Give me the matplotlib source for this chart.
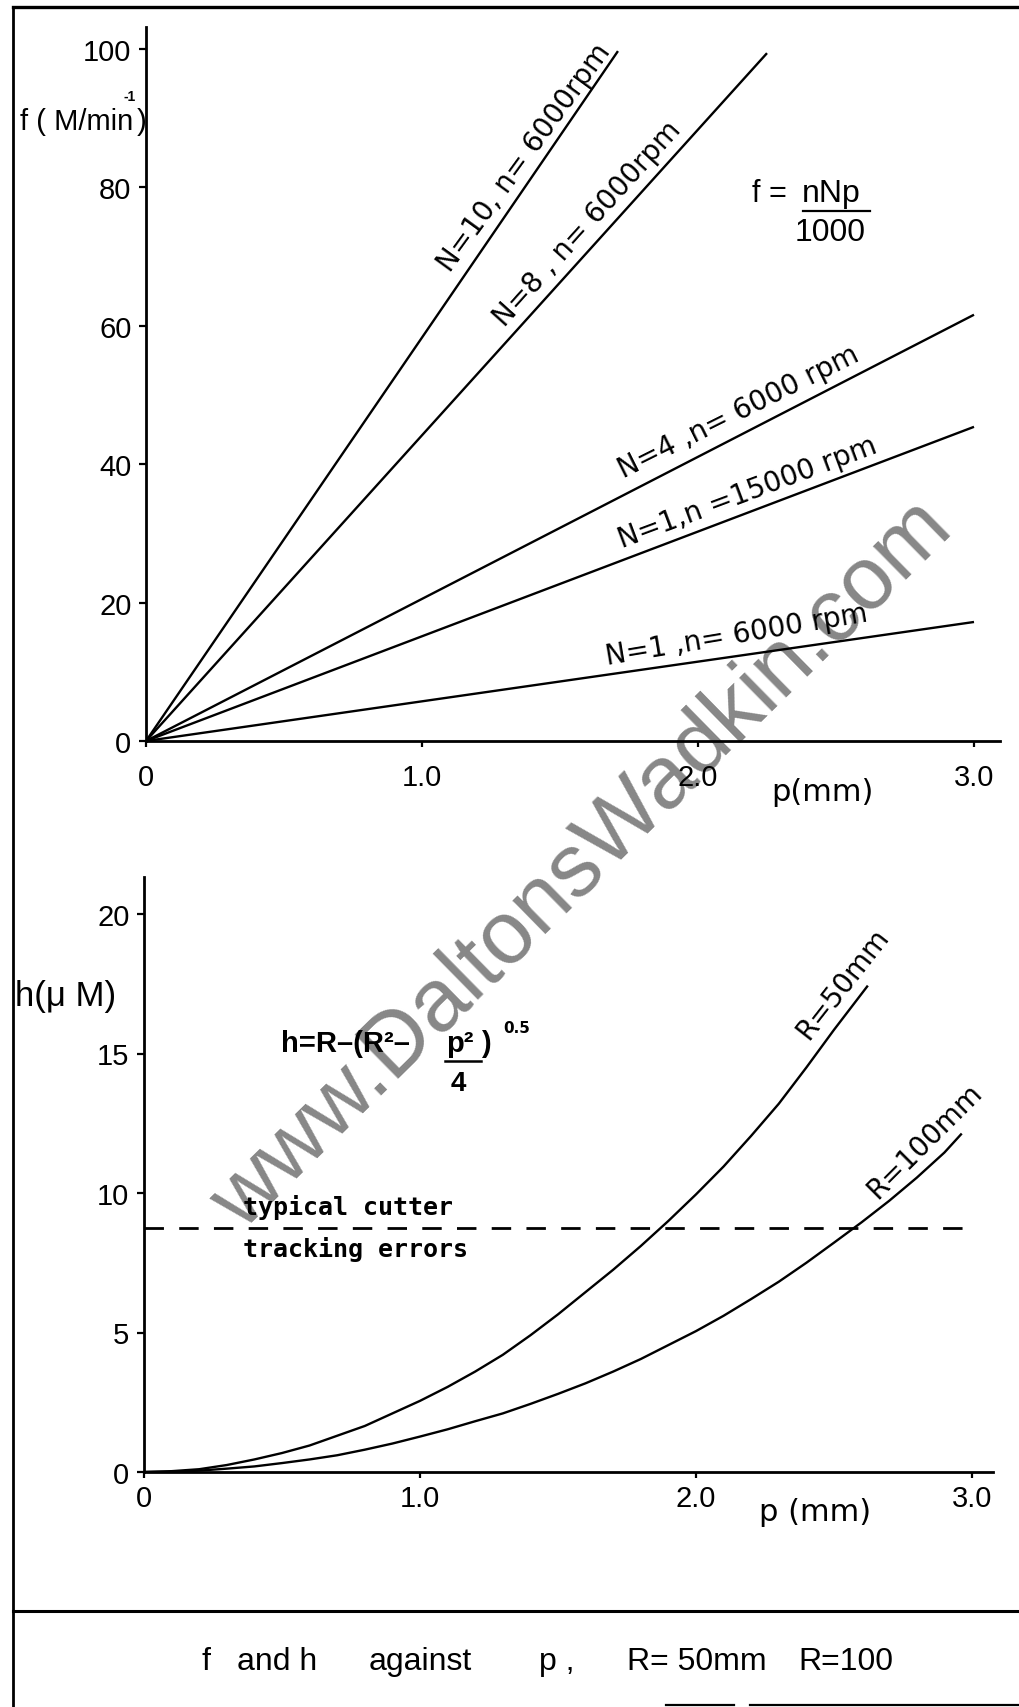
import matplotlib
matplotlib.use("Agg")
import matplotlib.pyplot as plt
from matplotlib.lines import Line2D

W, H = 1019, 1708
DPI = 100
FONT = ["Liberation Sans", "DejaVu Sans"]
WIDE = ["DejaVu Sans"]
TYPE = ["DejaVu Sans Mono", "DejaVu Sans"]
plt.rcParams["font.family"] = FONT

# Feed rate f (m/min) against pitch p (mm): straight lines from the origin
feed_labels = ["N=10, n= 6000rpm", "N=8 , n= 6000rpm", "N=4 ,n= 6000 rpm",
               "N=1,n =15000 rpm", "N=1 ,n= 6000 rpm"]
feed_p_end = [1.71, 2.25, 3.0, 3.0, 3.0]
feed_f_end = [99.7, 99.4, 61.6, 45.4, 17.2]

# Cusp height h (micrometres) against pitch p (mm) for two cutter radii
r50_p = [0.0, 0.1, 0.2, 0.3, 0.4, 0.5, 0.6, 0.7, 0.8, 0.9, 1.0, 1.1, 1.2, 1.3,
         1.4, 1.5, 1.6, 1.7, 1.8, 1.9, 2.0, 2.1, 2.2, 2.3, 2.4, 2.5, 2.62]
r50_h = [0.0, 0.03, 0.10, 0.25, 0.45, 0.68, 0.95, 1.30, 1.65, 2.10, 2.55, 3.05,
         3.60, 4.20, 4.90, 5.65, 6.45, 7.25, 8.10, 9.00, 9.95, 10.95, 12.05,
         13.20, 14.50, 15.85, 17.40]
r100_p = [0.0, 0.1, 0.2, 0.3, 0.4, 0.5, 0.6, 0.7, 0.8, 0.9, 1.0, 1.1, 1.2, 1.3,
          1.4, 1.5, 1.6, 1.7, 1.8, 1.9, 2.0, 2.1, 2.2, 2.3, 2.4, 2.5, 2.6, 2.7,
          2.8, 2.9, 2.96]
r100_h = [0.0, 0.01, 0.05, 0.12, 0.20, 0.32, 0.45, 0.60, 0.80, 1.02, 1.27, 1.53,
          1.82, 2.10, 2.44, 2.80, 3.18, 3.60, 4.05, 4.55, 5.05, 5.60, 6.20, 6.82,
          7.50, 8.22, 8.95, 9.72, 10.55, 11.45, 12.10]
tracking_error = 8.75

f_ticks = [0, 20, 40, 60, 80, 100]
h_ticks = [0, 5, 10, 15, 20]
p_ticks = [0, 1, 2, 3]
p_tick_labels = ["0", "1.0", "2.0", "3.0"]


def fx(x):
    return x / W


def fy(y):
    return 1 - y / H


def label(x, y, s, size=20, rot=0, ha="center", va="center", family=None, **kw):
    fig.text(fx(x), fy(y), s, size=size, rotation=rot, ha=ha, va=va,
             rotation_mode="anchor", family=family or FONT, **kw)


def rule(x0, y0, x1, y1, lw=2.0):
    fig.add_artist(Line2D([fx(x0), fx(x1)], [fy(y0), fy(y1)], color="black",
                          lw=lw, transform=fig.transFigure))


def style_axes(ax, xpad):
    ax.set_facecolor("none")
    for side in ("top", "right"):
        ax.spines[side].set_visible(False)
    for side in ("left", "bottom"):
        ax.spines[side].set_linewidth(2.0)
    ax.tick_params(axis="y", direction="out", length=5, width=1.6,
                   labelsize=21, pad=5.5)
    ax.tick_params(axis="x", direction="out", length=4, width=1.6,
                   labelsize=21, pad=xpad)
    ax.set_xticks(p_ticks)
    ax.set_xticklabels(p_tick_labels)


fig = plt.figure(figsize=(W / DPI, H / DPI), dpi=DPI)

# ---- upper panel: f against p ----
ax1 = fig.add_axes([fx(146), fy(742), (1000 - 146) / W, (742 - 28) / H])
ax1.set_xlim(0, (1000 - 146) / 276)
ax1.set_ylim(0, (742 - 28) / 6.92)
style_axes(ax1, 12)
ax1.set_yticks(f_ticks)
for pe, fe in zip(feed_p_end, feed_f_end):
    ax1.plot([0, pe], [0, fe], color="black", lw=1.7, solid_capstyle="butt")

label(20, 122, "f ( M/min", size=21, ha="left")
label(124, 97, "-1", size=10, ha="left", weight="bold")
label(137, 122, ")", size=21, ha="left")
label(822, 793, "p(mm)", size=22, family=WIDE)
feed_label_pos = [(524, 158, 54), (587, 224, 48), (738, 412, 26.5),
                  (747, 493, 20.5), (737, 635, 9.5)]
for txt, (x, y, r) in zip(feed_labels, feed_label_pos):
    label(x, y, txt, size=20, rot=r, family=WIDE)

label(752, 194, "f =", size=22, ha="left")
label(802, 194, "nNp", size=23, ha="left")
rule(803, 212, 870, 212, lw=1.6)
label(830, 233, "1000", size=23)

# ---- lower panel: h against p ----
ax2 = fig.add_axes([fx(144), fy(1473), (993 - 144) / W, (1473 - 878) / H])
ax2.set_xlim(0, (993 - 144) / 276)
ax2.set_ylim(0, (1473 - 878) / 27.9)
style_axes(ax2, 5)
ax2.set_yticks(h_ticks)
ax2.plot(r50_p, r50_h, color="black", lw=1.7)
ax2.plot(r100_p, r100_h, color="black", lw=1.7)
ax2.plot([0, 3.01], [tracking_error, tracking_error], color="black", lw=2.0,
         linestyle=(0, (7, 5.5)))

label(15, 997, "h(\u03bc M)", size=25, ha="left")
label(815, 1513, "p (mm)", size=22, family=WIDE)
label(843, 984, "R=50mm", size=20, rot=52, family=WIDE)
label(925, 1141, "R=100mm", size=20, rot=45, family=WIDE)

label(281, 1044, "h=R\u2013(R\u00b2\u2013", size=21, ha="left", weight="bold")
label(446, 1044, "p\u00b2", size=21, ha="left", weight="bold")
label(481, 1044, ")", size=21, ha="left", weight="bold")
label(503, 1029, "0.5", size=11, ha="left", weight="bold", family=WIDE)
rule(445, 1062, 481, 1062, lw=1.8)
label(458, 1084, "4", size=20, weight="bold")

label(243, 1208, "typical cutter", size=18, ha="left", family=TYPE,
      weight="bold")
label(243, 1250, "tracking errors", size=18, ha="left", family=TYPE,
      weight="bold")

# caption box
caption = [(201, "f"), (237, "and h"), (369, "against"), (539, "p ,"),
           (627, "R= 50mm"), (798, "R=100")]
for x, s in caption:
    label(x, 1662, s, size=23, ha="left")

# page frame
rule(13, 8, W, 8, lw=2.4)
rule(13, 8, 13, H, lw=2.0)
rule(13, 1612, W, 1612, lw=2.2)
rule(666, 1706, 734, 1706, lw=1.6)
rule(750, 1706, W, 1706, lw=1.6)

# site mark across the sheet
fig.text(fx(583), fy(866), "www.DaltonsWadkin.com", size=64, rotation=44.5,
         ha="center", va="center", rotation_mode="anchor", color="#878787",
         family=["Liberation Sans", "DejaVu Sans"], zorder=-1)

fig.savefig("out.png", dpi=DPI, facecolor="white")
